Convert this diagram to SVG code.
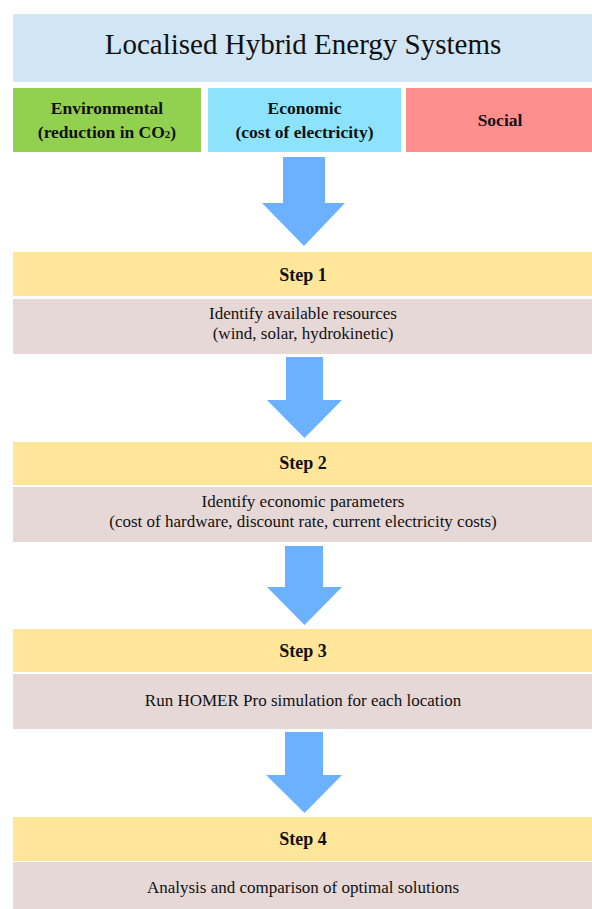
<svg xmlns="http://www.w3.org/2000/svg" width="592" height="909" viewBox="0 0 592 909">
<style>
text{font-family:"Liberation Serif","Times New Roman",serif;fill:#111;text-anchor:middle}
.title{font-size:29px}
.cat{font-size:17.5px;font-weight:bold}
.step{font-size:18px;font-weight:bold}
.body{font-size:17px}
.yellow{fill:#FFE699}
.pink{fill:#E6D8D6}
.arrow{fill:#6CB1FF}
</style>
<rect width="592" height="909" fill="#ffffff"/>
<g id="title">
<rect x="13" y="14" width="579" height="68" fill="#D2E5F4"/>
<text class="title" x="303" y="54">Localised Hybrid Energy Systems</text>
</g>
<g id="environmental">
<rect x="13" y="88" width="188" height="64" fill="#92D050"/>
<text class="cat" x="107" y="114">Environmental</text>
<text class="cat" x="107" y="138">(reduction in CO<tspan font-size="11">2</tspan>)</text>
</g>
<g id="economic">
<rect x="208" y="88" width="193" height="64" fill="#8EE3FC"/>
<text class="cat" x="304.5" y="114">Economic</text>
<text class="cat" x="304.5" y="138">(cost of electricity)</text>
</g>
<g id="social">
<rect x="406" y="88" width="186" height="64" fill="#FF8F8F"/>
<text class="cat" x="500" y="126">Social</text>
</g>
<g id="step1">
<rect class="yellow" x="13" y="252" width="579" height="44"/>
<text class="step" x="303" y="281">Step 1</text>
<rect class="pink" x="13" y="299" width="579" height="55"/>
<text class="body" x="303" y="319">Identify available resources</text>
<text class="body" x="303" y="339">(wind, solar, hydrokinetic)</text>
</g>
<g id="step2">
<rect class="yellow" x="13" y="442" width="579" height="43"/>
<text class="step" x="303" y="469">Step 2</text>
<rect class="pink" x="13" y="487" width="579" height="55"/>
<text class="body" x="303" y="507">Identify economic parameters</text>
<text class="body" x="303" y="527">(cost of hardware, discount rate, current electricity costs)</text>
</g>
<g id="step3">
<rect class="yellow" x="13" y="629" width="579" height="43"/>
<text class="step" x="303" y="657">Step 3</text>
<rect class="pink" x="13" y="674" width="579" height="55"/>
<text class="body" x="303" y="706">Run HOMER Pro simulation for each location</text>
</g>
<g id="step4">
<rect class="yellow" x="13" y="817" width="579" height="44"/>
<text class="step" x="303" y="845">Step 4</text>
<rect class="pink" x="13" y="862" width="579" height="47"/>
<text class="body" x="303" y="893">Analysis and comparison of optimal solutions</text>
</g>
<g id="connectors">
<polygon class="arrow" points="283,157 325,157 325,203 345,203 304,246 262,203 283,203"/>
<polygon class="arrow" points="286,357 323,357 323,400 342,400 304.5,438 267,400 286,400"/>
<polygon class="arrow" points="285,546 323,546 323,587 342,587 304.5,625 267,587 285,587"/>
<polygon class="arrow" points="285,732 323,732 323,775 342,775 304.5,813 266,775 285,775"/>
</g>
</svg>
